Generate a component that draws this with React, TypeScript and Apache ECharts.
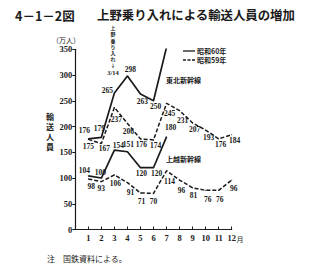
import React, { useEffect, useRef } from "react";
import * as echarts from "echarts";

const months = [1, 2, 3, 4, 5, 6, 7, 8, 9, 10, 11, 12];
const tohokuS60 = [176, 179, 265, 298, 263, 250, 354];
const tohokuS59 = [175, 167, 237, 206, 176, 174, 245, 231, 207, 193, 176, 184];
const joetsuS60 = [104, 100, 154, 151, 120, 120, 180];
const joetsuS59 = [98, 93, 106, 91, 71, 70, 114, 96, 81, 76, 76, 96];
const yMin = 0;
const yMax = 350;
const yStep = 50;
const legendNames = ["昭和60年", "昭和59年"];

// label offsets from each point (style only)
const offTS60 = [[-4, -8], [-2, -9], [-7, -3], [3, -7], [2, 7], [2, 6], [8, 1]];
const offTS59 = [[0, 7], [3, 5], [2, 12], [1, 8], [1, 6], [2, 6], [3, 10], [3, 10], [2, 7], [3, 7], [2, 6], [3, 6]];
const offJS60 = [[-4, -5], [-1, -6], [4, -5], [1, -7], [1, 6], [3, 6], [4, -9]];
const offJS59 = [[3, 7], [0, 7], [1, 9], [3, 10], [1, 9], [0, 8], [3, 11], [2, 10], [1, 8], [2, 9], [1, 9], [2, 8]];

const INK = "#1a1a1a";
const NUM_FONT = "Liberation Serif";
const JP_FONT = "Noto Sans CJK JP";

function build(values: number[], offs: number[][]) {
  return values.map((v, i) => ({
    value: [months[i], v],
    label: { position: [0.5 + offs[i][0], 0.5 + offs[i][1]] },
  }));
}

function lineSeries(name: string, values: number[], offs: number[][], dashed: boolean) {
  return {
    type: "line",
    name,
    data: build(values, offs),
    symbol: "circle",
    symbolSize: 1,
    showSymbol: true,
    itemStyle: { color: INK },
    lineStyle: {
      color: INK,
      width: dashed ? 1.5 : 1.7,
      type: dashed ? [4, 2] : "solid",
    },
    label: {
      show: true,
      align: "center",
      verticalAlign: "middle",
      formatter: (p: any) => String(p.value[1]),
      fontFamily: NUM_FONT,
      fontWeight: "bold",
      fontSize: 7.5,
      color: INK,
    },
    emphasis: { disabled: true },
    silent: true,
  };
}

export default function App() {
  const ref = useRef<HTMLDivElement>(null);
  useEffect(() => {
    if (!ref.current) return;
    const chart = echarts.init(ref.current, undefined, { renderer: "svg" });
    chart.setOption({
      animation: false,
      backgroundColor: "#fff",
      grid: { left: 75.3, right: 97.3, top: 49.3, bottom: 39.5 },
      xAxis: {
        type: "value",
        min: 0,
        max: 12,
        interval: 1,
        axisLine: { lineStyle: { color: INK, width: 1.2 } },
        axisTick: { show: true, inside: true, length: 3, lineStyle: { color: INK, width: 1 } },
        splitLine: { show: false },
        axisLabel: {
          margin: 4,
          fontFamily: NUM_FONT,
          fontWeight: "bold",
          fontSize: 8.5,
          color: INK,
          formatter: (v: number) => (v === 0 ? "" : String(v)),
        },
      },
      yAxis: {
        type: "value",
        min: yMin,
        max: yMax,
        interval: yStep,
        axisLine: { show: true, lineStyle: { color: INK, width: 1.2 } },
        axisTick: { show: true, inside: false, length: 3, lineStyle: { color: INK, width: 1 } },
        splitLine: { show: false },
        axisLabel: {
          margin: 3,
          fontFamily: NUM_FONT,
          fontWeight: "bold",
          fontSize: 8.5,
          color: INK,
        },
      },
      series: [
        lineSeries("東北新幹線 " + legendNames[0], tohokuS60, offTS60, false),
        lineSeries("東北新幹線 " + legendNames[1], tohokuS59, offTS59, true),
        lineSeries("上越新幹線 " + legendNames[0], joetsuS60, offJS60, false),
        lineSeries("上越新幹線 " + legendNames[1], joetsuS59, offJS59, true),
      ],
      graphic: [
        {
          type: "text",
          style: { text: "4－1－2図", x: 15, y: 15, fontFamily: JP_FONT, fontWeight: "bold", fontSize: 12.5, fill: INK, textAlign: "left", textVerticalAlign: "middle" },
        },
        {
          type: "text",
          style: { text: "上野乗り入れによる輸送人員の増加", x: 97, y: 15, fontFamily: JP_FONT, fontWeight: "bold", fontSize: 12.4, fill: INK, textAlign: "left", textVerticalAlign: "middle" },
        },
        {
          type: "text",
          style: { text: "（万人）", x: 66, y: 40, fontFamily: JP_FONT, fontSize: 7, fill: INK, textAlign: "center", textVerticalAlign: "middle" },
        },
        {
          type: "text",
          style: { text: "輸\n送\n人\n員", x: 50, y: 112, fontFamily: JP_FONT, fontWeight: "bold", fontSize: 8, lineHeight: 9.8, fill: INK, textAlign: "center", textVerticalAlign: "top" },
        },
        {
          type: "text",
          style: { text: "上\n野\n乗\nり\n入\nれ\n↓", x: 113, y: 24.5, fontFamily: JP_FONT, fontWeight: "bold", fontSize: 5, lineHeight: 6.2, fill: INK, textAlign: "center", textVerticalAlign: "top" },
        },
        {
          type: "text",
          style: { text: "3/14", x: 113, y: 72, fontFamily: NUM_FONT, fontWeight: "bold", fontSize: 6.5, fill: INK, textAlign: "center", textVerticalAlign: "middle" },
        },
        {
          type: "line",
          shape: { x1: 183, y1: 51, x2: 195, y2: 51 },
          style: { stroke: INK, lineWidth: 1.3 },
        },
        {
          type: "text",
          style: { text: legendNames[0], x: 197, y: 51, fontFamily: JP_FONT, fontWeight: "bold", fontSize: 7, fill: INK, textAlign: "left", textVerticalAlign: "middle" },
        },
        {
          type: "line",
          shape: { x1: 183, y1: 60, x2: 195, y2: 60 },
          style: { stroke: INK, lineWidth: 1.3, lineDash: [3, 1.5] },
        },
        {
          type: "text",
          style: { text: legendNames[1], x: 197, y: 60, fontFamily: JP_FONT, fontWeight: "bold", fontSize: 7, fill: INK, textAlign: "left", textVerticalAlign: "middle" },
        },
        {
          type: "text",
          style: { text: "東北新幹線", x: 166, y: 80, fontFamily: JP_FONT, fontWeight: "bold", fontSize: 7, fill: INK, textAlign: "left", textVerticalAlign: "middle" },
        },
        {
          type: "text",
          style: { text: "上越新幹線", x: 166, y: 159, fontFamily: JP_FONT, fontWeight: "bold", fontSize: 7, fill: INK, textAlign: "left", textVerticalAlign: "middle" },
        },
        {
          type: "text",
          style: { text: "月", x: 236.5, y: 238.5, fontFamily: JP_FONT, fontSize: 7, fill: INK, textAlign: "left", textVerticalAlign: "middle" },
        },
        {
          type: "text",
          style: { text: "注　国鉄資料による。", x: 47, y: 258, fontFamily: JP_FONT, fontSize: 8, fill: INK, textAlign: "left", textVerticalAlign: "middle" },
        },
      ],
    });
    return () => chart.dispose();
  }, []);
  return (
    <div
      ref={ref}
      style={{ position: "absolute", left: 0, top: 0, width: 329, height: 269, background: "#fff" }}
    />
  );
}
